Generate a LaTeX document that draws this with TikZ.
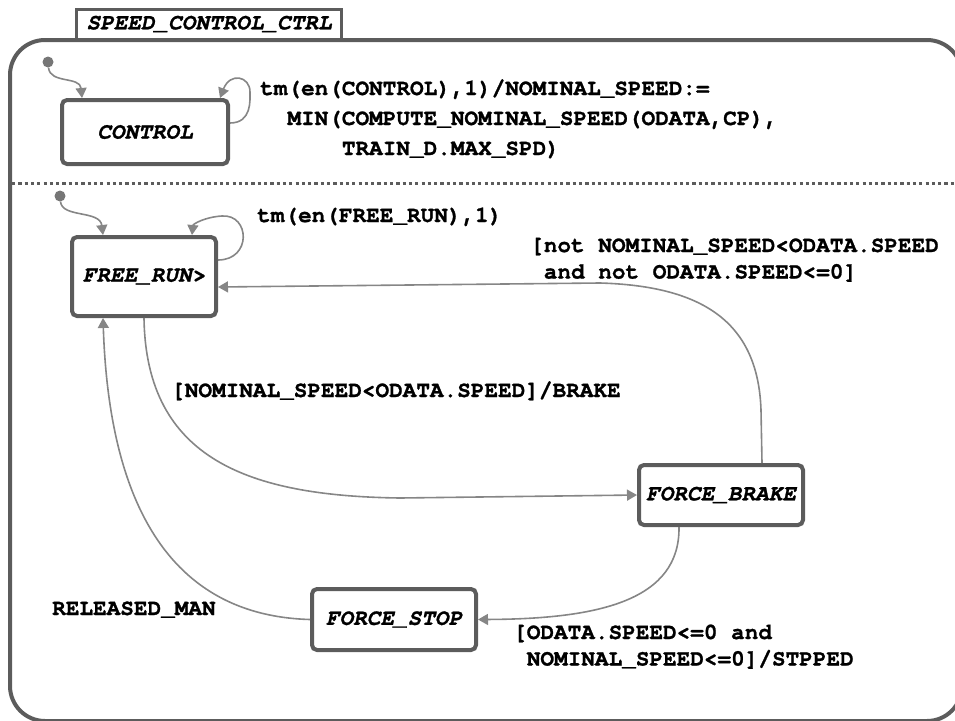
\documentclass[tikz,border=0pt]{standalone}
\usepackage{fontspec}
\setmainfont{TeX Gyre Cursor}[BoldFeatures={FakeBold=1.1}, BoldItalicFeatures={FakeBold=1.1}]
\usetikzlibrary{arrows.meta,calc}
\definecolor{edgegray}{HTML}{868686}
\definecolor{framegray}{HTML}{5C5C5C}
\definecolor{dotgray}{HTML}{767676}
\begin{document}
\begin{tikzpicture}[x=1pt,y=-1pt,
  txt/.style={font=\fontsize{22.7}{30}\selectfont\bfseries},
  txttight/.style={font=\fontsize{22.7}{26.5}\selectfont\bfseries},
  state/.style={draw=framegray, line width=4pt, rounded corners=5pt, fill=white,
    inner sep=0pt, font=\fontsize{22.7}{30}\selectfont\bfseries\itshape},
  trans/.style={draw=edgegray, line width=1.6pt, -{Triangle[length=10pt,width=11pt]}},
  lbl/.style={anchor=base west, align=left, inner sep=0pt},
  initdot/.style={circle, fill=dotgray, minimum size=11pt, inner sep=0pt}
]
\useasboundingbox (0,0) rectangle (955,720);

% chart title tab and outer frame
\node[draw=framegray, line width=3pt, fill=white, minimum width=265pt,
      minimum height=30pt, inner sep=0pt,
      font=\fontsize{22.7}{30}\selectfont\bfseries\itshape] (title) at (209,24) {SPEED\_CONTROL\_CTRL};
\draw[framegray, line width=4pt, rounded corners=35pt] (10,40) rectangle (962,721);

% parallel decomposition separator
\draw[framegray, line width=3pt, dash pattern=on 3.2pt off 3.1pt] (12,183) -- (960,183);

% states
\node[state, minimum width=166pt, minimum height=64pt] (control) at (145,132) {CONTROL};
\node[state, minimum width=144pt, minimum height=79pt] (freerun) at (144,276.5) {FREE\_RUN>};
\node[state, minimum width=164pt, minimum height=60pt] (forcebrake) at (721,495) {FORCE\_BRAKE};
\node[state, minimum width=164pt, minimum height=61pt] (forcestop) at (394,619.5) {FORCE\_STOP};

% default transitions
\node[initdot] (i1) at (48,62) {};
\node[initdot] (i2) at (60,196) {};
\draw[trans] (i1) .. controls (50,84) and (80,76) .. ([xshift=22pt]control.north west);
\draw[trans] (i2) .. controls (62,218) and (100,210) .. ([xshift=33pt]freerun.north west);

% self loops
\draw[trans] ([yshift=-25pt]control.north east) .. controls (252,123) and (250,100) .. (250,92)
  .. controls (250,76) and (230,72) .. ([xshift=-10pt]control.north east);
\draw[trans] ([yshift=-25pt]freerun.north east) .. controls (252,260) and (250,214) .. (222,216)
  .. controls (205,217) and (193,224) .. ([xshift=-26pt]freerun.north east);

% transitions between states
\draw[trans] (freerun.south) .. controls (146,460) and (250,496) .. (400,498) -- (forcebrake.west);
\draw[trans] ([xshift=41pt]forcebrake.north) -- (761,410) .. controls (758,320) and (700,286) .. (600,283)
  -- ([yshift=-10.5pt]freerun.east);
\draw[trans] ([xshift=-42pt]forcebrake.south) .. controls (680,600) and (600,619) .. (forcestop.east);
\draw[trans] (forcestop.west) .. controls (150,615) and (108,470) .. ([xshift=-41pt]freerun.south);

% transition labels (multi-line labels are placed by their last baseline)
\node[lbl, txt] (l1) at (260,155) {tm(en(CONTROL),1)/NOMINAL\_SPEED:=\\
  \hphantom{MI}MIN(COMPUTE\_NOMINAL\_SPEED(ODATA,CP),\\
  \hphantom{MIN(CO}TRAIN\_D.MAX\_SPD)};
\node[lbl, txt] (l2) at (257,222) {tm(en(FREE\_RUN),1)};
\node[lbl, txttight] (l3) at (530,278.5) {[not NOMINAL\_SPEED<ODATA.SPEED\\
  \hphantom{[}and not ODATA.SPEED<=0]};
\node[lbl, txt] (l4) at (171,397) {[NOMINAL\_SPEED<ODATA.SPEED]/BRAKE};
\node[lbl, txttight] (l5) at (513,665.5) {[ODATA.SPEED<=0 and\\
  \hphantom{[}NOMINAL\_SPEED<=0]/STPPED};
\node[lbl, txt] (l6) at (52,615) {RELEASED\_MAN};
\end{tikzpicture}
\end{document}
